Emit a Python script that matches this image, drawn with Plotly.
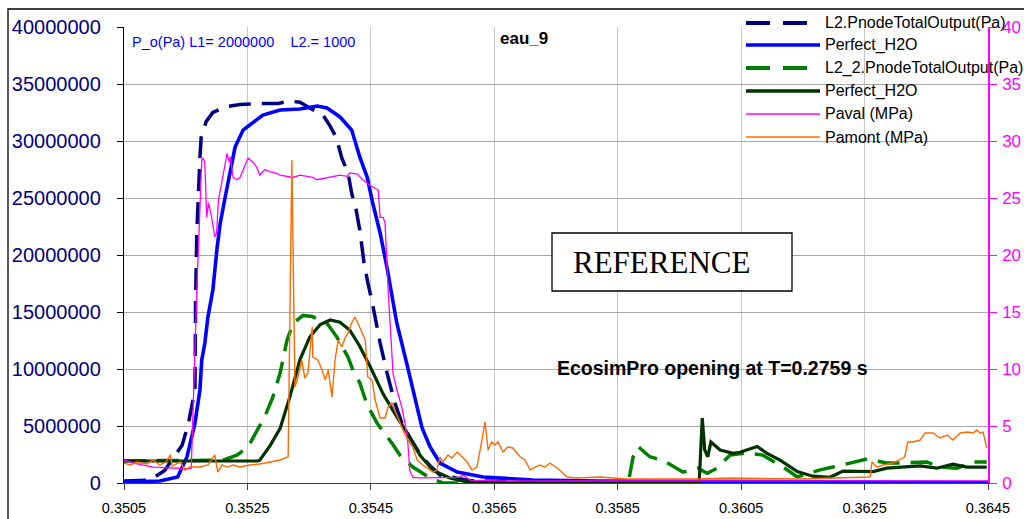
import plotly.graph_objects as go

# ---- data : time (s) / pressure ------------------------------------------
# L2.PnodeTotalOutput (Pa)
L2_PNODE = [
    (0.35050, 0.18e6), (0.35092, 0.25e6), (0.35116, 1.1e6), (0.35144, 3.3e6),
    (0.35154, 5.1e6), (0.35165, 8.2e6), (0.35166, 16.0e6), (0.35168, 22.0e6),
    (0.35173, 28.5e6), (0.35175, 30.3e6), (0.35183, 31.7e6), (0.35194, 32.5e6),
    (0.35214, 33.0e6), (0.35238, 33.2e6), (0.35270, 33.3e6), (0.35300, 33.3e6),
    (0.35319, 33.5e6), (0.35335, 33.4e6), (0.35351, 32.9e6), (0.35372, 32.3e6),
    (0.35383, 31.4e6), (0.35394, 30.3e6), (0.35403, 28.5e6), (0.35413, 27.2e6),
    (0.35419, 25.4e6), (0.35426, 24.0e6), (0.35432, 22.2e6), (0.35439, 19.3e6),
    (0.35445, 17.6e6), (0.35452, 15.9e6), (0.35465, 12.3e6), (0.35476, 9.7e6),
    (0.35489, 7.0e6), (0.35500, 5.3e6), (0.35513, 4.0e6), (0.35530, 2.5e6),
    (0.35546, 1.5e6), (0.35562, 0.7e6), (0.35611, 0.2e6), (0.35700, 0.08e6),
    (0.36450, 0.02e6),
]

# Perfect_H2O (Pa), first case
PERFECT_1 = [
    (0.35050, 0.09e6), (0.35108, 0.18e6), (0.35137, 0.53e6), (0.35152, 2.28e6),
    (0.35165, 5.26e6), (0.35173, 8.16e6), (0.35176, 10.79e6), (0.35181, 12.28e6),
    (0.35186, 14.56e6), (0.35194, 16.93e6), (0.35201, 20.70e6), (0.35206, 22.81e6),
    (0.35214, 25.09e6), (0.35222, 27.46e6), (0.35230, 29.47e6), (0.35243, 30.96e6),
    (0.35259, 31.67e6), (0.35275, 32.28e6), (0.35303, 32.72e6), (0.35335, 32.81e6),
    (0.35363, 33.07e6), (0.35379, 32.89e6), (0.35400, 32.11e6), (0.35419, 30.96e6),
    (0.35432, 28.60e6), (0.35444, 26.84e6), (0.35453, 24.56e6), (0.35465, 21.93e6),
    (0.35476, 18.95e6), (0.35483, 16.93e6), (0.35492, 14.04e6), (0.35509, 10.3e6),
    (0.35521, 7.5e6), (0.35533, 4.82e6), (0.35546, 3.16e6), (0.35562, 1.75e6),
    (0.35590, 0.96e6), (0.35632, 0.53e6), (0.35713, 0.26e6), (0.35821, 0.18e6),
    (0.36450, 0.05e6),
]

# L2_2.PnodeTotalOutput (Pa)
L2_2_PNODE = [
    (0.35050, 1.95e6), (0.35190, 1.95e6), (0.35210, 2.0e6), (0.35233, 2.45e6),
    (0.35251, 3.15e6), (0.35266, 4.65e6), (0.35278, 5.8e6), (0.35291, 7.5e6),
    (0.35303, 9.65e6), (0.35314, 12.5e6), (0.35324, 14.0e6), (0.35340, 14.7e6),
    (0.35355, 14.6e6), (0.35368, 14.3e6), (0.35379, 14.0e6), (0.35395, 12.8e6),
    (0.35413, 11.05e6), (0.35421, 9.9e6), (0.35432, 8.8e6), (0.35444, 6.85e6),
    (0.35460, 5.25e6), (0.35484, 3.5e6), (0.35497, 2.45e6), (0.35518, 1.4e6),
    (0.35546, 0.44e6), (0.35567, 0.0), (0.35867, 0.0), (0.35875, 2.3e6),
    (0.35883, 3.2e6), (0.35902, 2.3e6), (0.35923, 2.0e6), (0.35956, 0.95e6),
    (0.35980, 1.3e6), (0.35995, 0.85e6), (0.36011, 1.3e6), (0.36032, 2.45e6),
    (0.36060, 2.65e6), (0.36085, 2.45e6), (0.36118, 1.4e6), (0.36141, 0.53e6),
    (0.36178, 1.15e6), (0.36199, 1.4e6), (0.36226, 1.75e6), (0.36254, 2.1e6),
    (0.36286, 1.75e6), (0.36307, 1.75e6), (0.36351, 1.85e6), (0.36372, 1.4e6),
    (0.36400, 1.3e6), (0.36426, 1.85e6), (0.36448, 1.85e6),
]

# Perfect_H2O (Pa), second case
PERFECT_2 = [
    (0.35050, 1.93e6), (0.35267, 1.93e6), (0.35270, 2.0e6), (0.35287, 3.3e6),
    (0.35303, 4.8e6), (0.35319, 7.6e6), (0.35335, 10.8e6), (0.35351, 12.8e6),
    (0.35368, 13.9e6), (0.35384, 14.3e6), (0.35400, 14.1e6), (0.35416, 13.4e6),
    (0.35432, 12.0e6), (0.35449, 10.2e6), (0.35470, 7.8e6), (0.35492, 5.8e6),
    (0.35509, 4.4e6), (0.35530, 2.4e6), (0.35551, 1.1e6), (0.35578, 0.44e6),
    (0.35606, 0.09e6), (0.35659, 0.0), (0.35982, 0.0), (0.35987, 5.7e6),
    (0.35991, 2.9e6), (0.35996, 2.3e6), (0.36001, 3.6e6), (0.36016, 2.9e6),
    (0.36037, 2.6e6), (0.36048, 2.7e6), (0.36076, 3.2e6), (0.36092, 2.6e6),
    (0.36113, 2.0e6), (0.36141, 1.0e6), (0.36166, 0.6e6), (0.36194, 0.5e6),
    (0.36215, 1.05e6), (0.36238, 1.0e6), (0.36264, 1.0e6), (0.36286, 1.3e6),
    (0.36307, 1.4e6), (0.36340, 1.5e6), (0.36367, 1.3e6), (0.36393, 1.65e6),
    (0.36416, 1.4e6), (0.36448, 1.4e6),
]

# Paval (MPa)
PAVAL = [
    (0.35050, 2.0), (0.35065, 1.75), (0.35097, 1.4), (0.35125, 1.3),
    (0.35155, 1.25), (0.35159, 1.3), (0.35168, 16.9), (0.35176, 28.3),
    (0.35178, 28.5), (0.35181, 28.1), (0.35184, 23.3), (0.35187, 24.6),
    (0.35192, 23.3), (0.35197, 21.6), (0.35200, 21.9), (0.35203, 24.8),
    (0.35208, 26.3), (0.35214, 28.2), (0.35217, 28.9), (0.35221, 28.1),
    (0.35222, 28.6), (0.35227, 26.8), (0.35233, 26.6), (0.35238, 26.8),
    (0.35243, 27.5), (0.35249, 28.3), (0.35251, 28.5), (0.35260, 28.1),
    (0.35265, 27.7), (0.35270, 27.0), (0.35278, 27.5), (0.35287, 27.3),
    (0.35295, 27.2), (0.35303, 27.0), (0.35324, 26.8), (0.35335, 27.0),
    (0.35356, 26.8), (0.35363, 26.6), (0.35379, 26.8), (0.35400, 27.0),
    (0.35411, 26.9), (0.35416, 27.2), (0.35428, 27.1), (0.35437, 26.6),
    (0.35449, 26.1), (0.35462, 25.7), (0.35465, 23.3), (0.35470, 23.3),
    (0.35473, 22.8), (0.35478, 16.9), (0.35486, 9.6), (0.35492, 8.2),
    (0.35500, 6.7), (0.35505, 5.3), (0.35510, 3.5), (0.35513, 1.1),
    (0.35518, 0.5), (0.35530, 0.45), (0.35594, 0.5), (0.35599, 0.7),
    (0.35611, 0.25), (0.35659, 0.18), (0.36450, 0.18),
]

# Pamont (MPa)
PAMONT = [
    (0.35050, 1.75), (0.35060, 1.58), (0.35071, 1.84), (0.35087, 1.67),
    (0.35097, 2.02), (0.35108, 1.58), (0.35118, 1.84), (0.35125, 2.46),
    (0.35128, 1.49), (0.35141, 1.84), (0.35149, 1.14), (0.35157, 1.40),
    (0.35173, 1.40), (0.35186, 1.58), (0.35197, 2.46), (0.35202, 0.96),
    (0.35209, 1.58), (0.35217, 1.40), (0.35227, 1.58), (0.35238, 1.40),
    (0.35254, 1.58), (0.35270, 1.67), (0.35287, 1.84), (0.35303, 2.02),
    (0.35316, 2.30), (0.35322, 28.3), (0.35327, 8.42), (0.35332, 9.30),
    (0.35338, 10.79), (0.35343, 9.21), (0.35348, 9.65), (0.35355, 13.68),
    (0.35356, 11.05), (0.35364, 10.79), (0.35371, 9.91), (0.35376, 9.04),
    (0.35381, 9.91), (0.35387, 7.54), (0.35392, 10.79), (0.35397, 12.54),
    (0.35403, 11.93), (0.35408, 12.72), (0.35413, 13.16), (0.35419, 14.04),
    (0.35424, 14.56), (0.35429, 14.04), (0.35436, 13.16), (0.35441, 12.54),
    (0.35445, 9.30), (0.35452, 9.04), (0.35457, 7.28), (0.35465, 5.70),
    (0.35473, 5.70), (0.35478, 6.67), (0.35484, 7.02), (0.35492, 5.96),
    (0.35502, 4.65), (0.35510, 3.77), (0.35518, 3.16), (0.35525, 2.02),
    (0.35534, 1.58), (0.35551, 0.96), (0.35557, 1.14), (0.35562, 2.28),
    (0.35567, 1.84), (0.35575, 2.46), (0.35581, 2.19), (0.35590, 2.72),
    (0.35598, 2.28), (0.35606, 1.84), (0.35614, 1.14), (0.35622, 1.40),
    (0.35627, 2.89), (0.35632, 4.39), (0.35635, 5.35), (0.35640, 2.89),
    (0.35646, 3.60), (0.35651, 3.33), (0.35656, 3.60), (0.35664, 2.72),
    (0.35672, 3.16), (0.35680, 3.07), (0.35692, 2.28), (0.35700, 2.02),
    (0.35708, 1.14), (0.35716, 1.40), (0.35724, 1.58), (0.35732, 1.40),
    (0.35740, 1.75), (0.35752, 1.32), (0.35768, 0.53), (0.35784, 0.44),
    (0.35821, 0.53), (0.35865, 0.35), (0.35978, 0.35), (0.36032, 0.44),
    (0.36145, 0.35), (0.36259, 0.53), (0.36262, 1.84), (0.36270, 1.40),
    (0.36280, 1.58), (0.36296, 1.75), (0.36307, 2.02), (0.36315, 2.28),
    (0.36320, 3.60), (0.36328, 3.60), (0.36340, 3.77), (0.36348, 4.39),
    (0.36361, 4.39), (0.36372, 3.95), (0.36384, 4.21), (0.36393, 3.77),
    (0.36405, 4.39), (0.36416, 4.47), (0.36426, 4.39), (0.36432, 4.65),
    (0.36437, 4.39), (0.36442, 4.47), (0.36448, 3.07),
]

# ---- axes -------------------------------------------------------------
X_TICKS = [0.3505, 0.3525, 0.3545, 0.3565, 0.3585, 0.3605, 0.3625, 0.3645]
Y_TICKS_PA = [0, 5000000, 10000000, 15000000, 20000000, 25000000,
              30000000, 35000000, 40000000]
Y_TICKS_MPA = [0, 5, 10, 15, 20, 25, 30, 35, 40]

LEGEND_LABELS = ["L2.PnodeTotalOutput(Pa)", "Perfect_H2O",
                 "L2_2.PnodeTotalOutput(Pa)", "Perfect_H2O",
                 "Paval (MPa)", "Pamont (MPa)"]

NAVY, BLUE, GREEN, DKGREEN = "#000080", "#0000FF", "#008000", "#003300"
MAGENTA, ORANGE = "#FF00FF", "#FF6A00"
SANS = "Liberation Sans, Arial, sans-serif"

# ---- geometry (pixels) ------------------------------------------------
W, H = 1024, 519
ML, MR, MT, MB = 124, 36, 27, 36
PW, PH = W - ML - MR, H - MT - MB


def fx(xpix):
    return (xpix - ML) / PW


def fy(ypix):
    return (H - MB - ypix) / PH


def cols(pairs):
    return [p[0] for p in pairs], [p[1] for p in pairs]


fig = go.Figure()

series = [
    (L2_PNODE, NAVY, 3.5, "22px,11px", "y"),
    (PERFECT_1, BLUE, 3.6, "solid", "y"),
    (L2_2_PNODE, GREEN, 3.5, "22px,11px", "y"),
    (PERFECT_2, DKGREEN, 3.2, "solid", "y"),
    (PAVAL, MAGENTA, 1.3, "solid", "y2"),
    (PAMONT, ORANGE, 1.4, "solid", "y2"),
]
for (pairs, color, width, dash, yax), name in zip(series, LEGEND_LABELS):
    xs, ys = cols(pairs)
    fig.add_trace(go.Scatter(
        x=xs, y=ys, name=name, mode="lines", yaxis=yax, showlegend=False,
        line=dict(color=color, width=width, dash=dash),
    ))

shapes = []
annotations = []

# outer chart frame
shapes.append(dict(type="rect", xref="paper", yref="paper",
                   x0=fx(8), x1=fx(1200), y0=fy(560), y1=fy(9),
                   line=dict(color="#000000", width=1.3), layer="above"))

# legend panel (hides the grid behind it)
shapes.append(dict(type="rect", xref="paper", yref="paper",
                   x0=fx(742), x1=fx(1200), y0=fy(146), y1=fy(11),
                   fillcolor="#FFFFFF", line=dict(width=0), layer="between"))

legend_rows = [
    (NAVY, 4, True), (BLUE, 3.5, False), (GREEN, 4, True),
    (DKGREEN, 3.5, False), (MAGENTA, 1.5, False), (ORANGE, 1.5, False),
]
row_y = [23, 45, 68, 91, 114, 137]
for (color, width, dashed), label, yp in zip(legend_rows, LEGEND_LABELS, row_y):
    segs = [(746, 770), (783, 807)] if dashed else [(746, 820)]
    for a, b in segs:
        shapes.append(dict(type="line", xref="paper", yref="paper",
                           x0=fx(a), x1=fx(b), y0=fy(yp), y1=fy(yp),
                           line=dict(color=color, width=width), layer="above"))
    annotations.append(dict(x=fx(823), y=fy(yp), xref="paper", yref="paper",
                            text=label, showarrow=False, xanchor="left",
                            yanchor="middle",
                            font=dict(family=SANS, size=16, color="#000000")))

# REFERENCE box
shapes.append(dict(type="rect", xref="paper", yref="paper",
                   x0=fx(552), x1=fx(792), y0=fy(291), y1=fy(233),
                   fillcolor="#FFFFFF", line=dict(color="#000000", width=1.3),
                   layer="above"))
annotations.append(dict(x=fx(571), y=fy(262), xref="paper", yref="paper",
                        text="REFERENCE", showarrow=False, xanchor="left",
                        yanchor="middle",
                        font=dict(family="Liberation Serif, Times New Roman, serif",
                                  size=31, color="#000000")))

annotations.append(dict(x=fx(130), y=fy(42), xref="paper", yref="paper",
                        text="P_o(Pa) L1= 2000000    L2.= 1000",
                        showarrow=False, xanchor="left", yanchor="middle",
                        font=dict(family=SANS, size=14.5, color="#0000FF")))
annotations.append(dict(x=fx(524), y=fy(38), xref="paper", yref="paper",
                        text="<b>eau_9</b>", showarrow=False, xanchor="center",
                        yanchor="middle",
                        font=dict(family=SANS, size=17, color="#000000")))
annotations.append(dict(x=fx(555), y=fy(368), xref="paper", yref="paper",
                        text="<b>EcosimPro opening at T=0.2759 s</b>",
                        showarrow=False, xanchor="left", yanchor="middle",
                        font=dict(family=SANS, size=19.5, color="#000000")))

fig.update_layout(
    width=W, height=H,
    margin=dict(l=ML, r=MR, t=MT, b=MB, pad=0, autoexpand=False),
    paper_bgcolor="#FFFFFF", plot_bgcolor="#FFFFFF",
    showlegend=False,
    shapes=shapes, annotations=annotations,
    xaxis=dict(
        range=[X_TICKS[0], X_TICKS[-1]], automargin=False,
        tickvals=X_TICKS, ticktext=[f"{v:.4f}" for v in X_TICKS],
        tickfont=dict(family=SANS, size=14.5, color="#000000"),
        showgrid=True, gridcolor="#C6C6C6", gridwidth=1,
        showline=True, linecolor="#404040", linewidth=1.3,
        ticks="outside", ticklen=6, tickcolor="#404040",
        ticklabelstandoff=5, zeroline=False,
    ),
    yaxis=dict(
        range=[0, 40000000], automargin=False,
        tickvals=Y_TICKS_PA, ticktext=[str(v) for v in Y_TICKS_PA],
        tickfont=dict(family=SANS, size=20, color="#000080"),
        showgrid=True, gridcolor="#A8A8A8", gridwidth=1,
        showline=True, linecolor="#000000", linewidth=1.3,
        ticks="outside", ticklen=6, tickcolor="#000000",
        ticklabelstandoff=12, zeroline=False,
    ),
    yaxis2=dict(
        range=[0, 40], overlaying="y", side="right", automargin=False,
        tickvals=Y_TICKS_MPA, ticktext=[str(v) for v in Y_TICKS_MPA],
        tickfont=dict(family=SANS, size=17, color=MAGENTA),
        showgrid=False, showline=True, linecolor=MAGENTA, linewidth=1.5,
        ticks="outside", ticklen=7, tickcolor=MAGENTA,
        ticklabelstandoff=2, zeroline=False,
    ),
)

fig.write_html("out.html")
